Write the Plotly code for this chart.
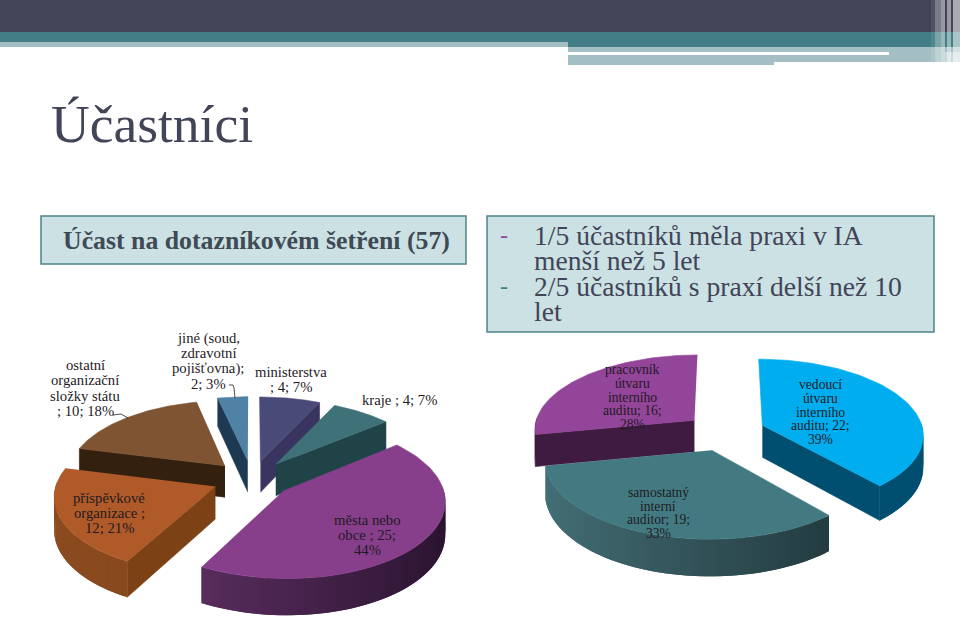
import numpy as np
import plotly.graph_objects as go

# data
left_values = [4, 4, 25, 12, 10, 2]
left_labels = [
    ["ministerstva", "; 4; 7%"],
    ["kraje ; 4; 7%"],
    ["města nebo", "obce ; 25;", "44%"],
    ["příspěvkové", "organizace ;", "12; 21%"],
    ["ostatní", "organizační", "složky státu", "; 10; 18%"],
    ["jiné (soud,", "zdravotní", "pojišťovna);", "2; 3%"],
]
right_values = [22, 19, 16]
right_labels = [
    ["vedoucí", "útvaru", "interního", "auditu; 22;", "39%"],
    ["samostatný", "interní", "auditor; 19;", "33%"],
    ["pracovník", "útvaru", "interního", "auditu; 16;", "28%"],
]

# styles: top colour, wall colour left, wall colour right, cut colour
left_colors = [
    ("#4a4a78", "#3a3560", "#3a3560", "#3a3560"),
    ("#3f7178", "#204348", "#204348", "#204348"),
    ("#873f8c", "#6a366e", "#2a1430", "#2a1430"),
    ("#af5a28", "#8d4c20", "#7c4216", "#7c4216"),
    ("#7e5433", "#33200f", "#33200f", "#33200f"),
    ("#4f82a5", "#1e3a52", "#1e3a52", "#1e3a52"),
]
right_colors = [
    ("#00aeef", "#004f70", "#004f70", "#004f70"),
    ("#437a82", "#457077", "#1d3236", "#1d3236"),
    ("#93459a", "#3f1b41", "#3f1b41", "#3f1b41"),
]
left_label_pos = [(291, 379.5), (399, 400), (367, 535), (109, 513), (85, 388), (208, 361)]
right_label_pos = [(820, 412), (658, 513), (632, 397)]

RY, PERSP, DEPTH, EXPLODE = 75, 0.11, 32, 0.25
SERIF = "Liberation Serif"

fig = go.Figure()


def project(cx, cy, rx, X, Y, drop=0):
    p = 1 / (1 + PERSP * Y)
    return cx + rx * X * p, cy - RY * Y * p + drop * DEPTH * p


def poly(xs, ys, color, width=0.6):
    fig.add_trace(go.Scatter(x=list(xs), y=list(ys), mode="lines", fill="toself",
                             fillcolor=color, line=dict(color=color, width=width),
                             hoverinfo="skip", showlegend=False))


def mix(c1, c2, t):
    a = [int(c1[i:i + 2], 16) for i in (1, 3, 5)]
    b = [int(c2[i:i + 2], 16) for i in (1, 3, 5)]
    return "rgb(%d,%d,%d)" % tuple(a[i] + (b[i] - a[i]) * t for i in range(3))


def pie3d(values, colors, cx, cy, rx):
    bounds = np.cumsum([0] + values) / sum(values) * 2 * np.pi
    order = sorted(range(len(values)),
                   key=lambda i: -np.cos((bounds[i] + bounds[i + 1]) / 2))
    for i in order:
        a0, a1 = bounds[i], bounds[i + 1]
        mid = (a0 + a1) / 2
        ex, ey = EXPLODE * np.sin(mid), EXPLODE * np.cos(mid)
        top, wall_l, wall_r, cut = colors[i]
        theta = np.linspace(a0, a1, 80)
        X, Y = ex + np.sin(theta), ey + np.cos(theta)

        # cut faces that look towards the viewer
        for a, normal in ((a0, a0 - np.pi / 2), (a1, a1 + np.pi / 2)):
            if np.cos(normal) < -0.01:
                px, py = [ex, ex + np.sin(a)], [ey, ey + np.cos(a)]
                t = [project(cx, cy, rx, u, v) for u, v in zip(px, py)]
                b = [project(cx, cy, rx, u, v, 1) for u, v in zip(px, py)]
                poly([t[0][0], t[1][0], b[1][0], b[0][0]],
                     [t[0][1], t[1][1], b[1][1], b[0][1]], cut)

        # outer wall in narrow bands, darker to the right; each band runs
        # under the next one so no seams show
        vis = theta[np.cos(theta) <= 0.05]
        for k in range(len(vis) - 1):
            tt = vis[k:k + 3]
            U, V = ex + np.sin(tt), ey + np.cos(tt)
            sx, sy = project(cx, cy, rx, U, V)
            bx, by = project(cx, cy, rx, U, V, 1)
            shade = (np.sin(tt[0]) + 1) / 2
            poly(list(sx) + list(bx[::-1]), list(sy) + list(by[::-1]),
                 mix(wall_l, wall_r, shade), 0)

        sx, sy = project(cx, cy, rx, X, Y)
        ax, ay = project(cx, cy, rx, ex, ey)
        poly([ax] + list(sx), [ay] + list(sy), top)


pie3d(left_values, left_colors, 252, 479, 158)
pie3d(right_values, right_colors, 725, 432, 161)

# leader lines
for lx, ly in (([113, 121, 128], [415, 414, 418]), ([229, 233, 234, 235], [385, 385, 388, 398])):
    fig.add_trace(go.Scatter(x=lx, y=ly, mode="lines", line=dict(color="#222222", width=0.8),
                             hoverinfo="skip", showlegend=False))


def text(x, y, s, size, color="#1f1a1f", anchor="center", bold=False):
    fig.add_annotation(x=x, y=y, xref="x", yref="y", text="<b>%s</b>" % s if bold else s,
                       showarrow=False, xanchor=anchor, yanchor="middle",
                       font=dict(family=SERIF, size=size, color=color))


for labels, spots in ((left_labels, left_label_pos), (right_labels, right_label_pos)):
    for lines, (lx, ly) in zip(labels, spots):
        step = 15.2 if labels is left_labels else 13.9
        for n, line in enumerate(lines):
            text(lx, ly + (n - (len(lines) - 1) / 2) * step, line,
                 14.7 if labels is left_labels else 13.6)

# slide decoration
rects = [
    (0, 0, 960, 32, "#424457"), (0, 32, 960, 42, "#437d85"), (568, 42, 960, 47, "#437d85"),
    (0, 42, 568, 47, "#a3bfc4"), (568, 47, 960, 52, "#a3bfc4"), (889, 52, 945, 62, "#a3bfc4"),
    (945, 52, 960, 62, "#c8d8db"), (774, 55, 889, 62, "#a3bfc4"), (568, 55, 774, 65, "#a3bfc4"),
]
for x0, y0, x1, y1, c in rects:
    fig.add_shape(type="rect", x0=x0, y0=y0, x1=x1, y1=y1, fillcolor=c, line_width=0, layer="below")
for x0, x1, op in ((931, 935, 0.08), (935, 941, 0.3), (941, 945, 0.45), (947, 951, 0.45), (953, 960, 0.55)):
    fig.add_shape(type="rect", x0=x0, y0=0, x1=x1, y1=63, fillcolor="white", opacity=op, line_width=0)
for x0, y0, x1, y1 in ((41, 216, 466, 264), (487, 216, 934, 332)):
    fig.add_shape(type="rect", x0=x0, y0=y0, x1=x1, y1=y1, fillcolor="#cbe1e4",
                  line=dict(color="#4f8288", width=1.5), layer="below")

text(49, 124, "Účastníci", 53.5, "#424457", "left")
text(256, 240, "Účast na dotazníkovém šetření (57)", 25.8, "#3f4a55", bold=True)
for y, s in ((235, "1/5 účastníků měla praxi v IA"), (260, "menší než 5 let"),
             (286, "2/5 účastníků s praxí delší než 10"), (311, "let")):
    text(532, y, s, 27.6, "#424457", "left")
text(498, 235, "-", 24, "#8a4a94", "left")
text(498, 286, "-", 24, "#437d85", "left")

fig.update_xaxes(range=[0, 960], visible=False, fixedrange=True)
fig.update_yaxes(range=[620, 0], visible=False, fixedrange=True)
fig.update_layout(width=960, height=620, margin=dict(l=0, r=0, t=0, b=0),
                  paper_bgcolor="white", plot_bgcolor="white", showlegend=False)

fig.write_html("out.html", post_script="document.body.style.margin='0';",
               config={"displayModeBar": False})
